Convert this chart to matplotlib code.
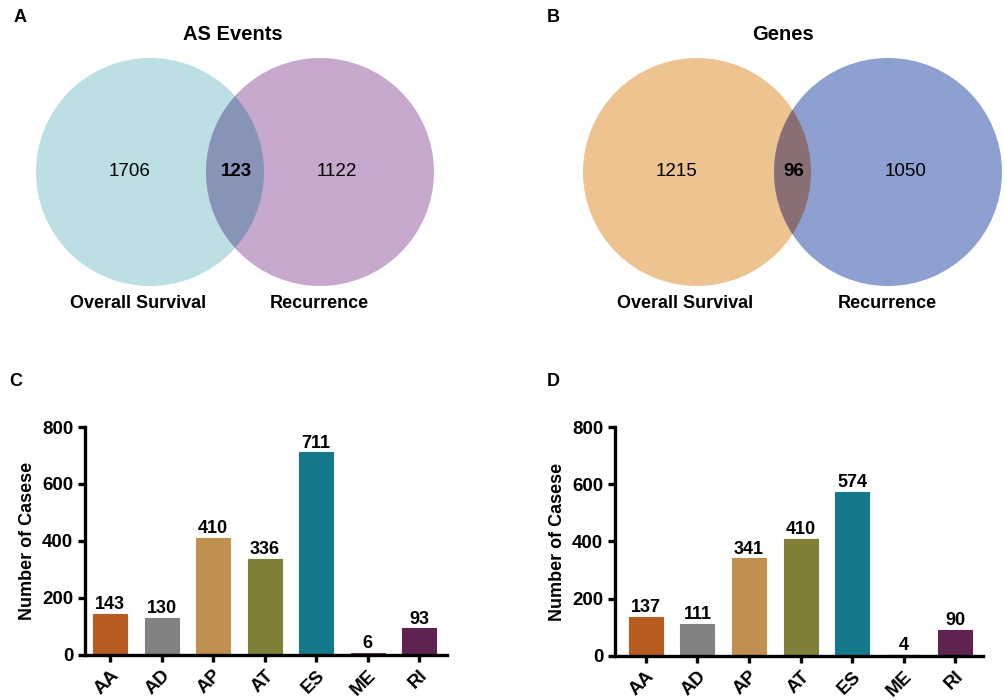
import matplotlib
matplotlib.use("Agg")
import matplotlib.pyplot as plt
from matplotlib.patches import Circle

plt.rcParams['font.family'] = ['Liberation Sans', 'DejaVu Sans']

# venn counts: only OS, overlap, only recurrence
venn_titles = ["AS Events", "Genes"]
venn_counts = [[1706, 123, 1122], [1215, 96, 1050]]
set_names = ["Overall Survival", "Recurrence"]

# bar charts
categories = ["AA", "AD", "AP", "AT", "ES", "ME", "RI"]
counts_c = [143, 130, 410, 336, 711, 6, 93]
counts_d = [137, 111, 341, 410, 574, 4, 90]
bar_colors = ["#B85D22", "#828282", "#C09050", "#7F7F38", "#15798C", "#6B3A5E", "#5E2350"]

venn_colors = [("#BCDFE4", "#C6A9CC", "#8893B8"), ("#EDC48F", "#8DA0D0", "#896F73")]

fig = plt.figure(figsize=(10.05, 7.0), dpi=100)

# overlay axes in pixel coordinates for the venn panels and panel letters
ov = fig.add_axes([0, 0, 1, 1])
ov.set_xlim(0, 1005)
ov.set_ylim(700, 0)
ov.axis("off")

# circle centres (left, right) per panel, radius
venn_pos = [((150, 172), (320, 172)), ((697, 172), (888, 172))]
R = 114
title_x = [233, 783]

for k in range(2):
    (lx, ly), (rx, ry) = venn_pos[k]
    c1, c2, c12 = venn_colors[k]
    left = Circle((lx, ly), R, facecolor=c1, edgecolor="none")
    right = Circle((rx, ry), R, facecolor=c2, edgecolor="none")
    ov.add_patch(left)
    ov.add_patch(right)
    inter = Circle((rx, ry), R, facecolor=c12, edgecolor="none")
    ov.add_patch(inter)
    inter.set_clip_path(left)

    a, both, b = venn_counts[k]
    ov.text(lx - R * 0.18, ly, str(a), fontsize=13.5, ha="center", va="center")
    ov.text((lx + rx) / 2 + 1, ly, str(both), fontsize=13.5, fontweight="bold",
            ha="center", va="center")
    ov.text(rx + R * 0.15, ly, str(b), fontsize=13.5, ha="center", va="center")

    ov.text(title_x[k], 35, venn_titles[k], fontsize=14.5, fontweight="bold",
            ha="center", va="center")
    ov.text(lx - 12, 304, set_names[0], fontsize=13, fontweight="bold",
            ha="center", va="center")
    ov.text(rx - 1, 304, set_names[1], fontsize=13, fontweight="bold",
            ha="center", va="center")

ov.text(20, 18, "A", fontsize=13, fontweight="bold", ha="center", va="center")
ov.text(553, 18, "B", fontsize=13, fontweight="bold", ha="center", va="center")
ov.text(16, 381, "C", fontsize=13, fontweight="bold", ha="center", va="center")
ov.text(553, 381, "D", fontsize=13, fontweight="bold", ha="center", va="center")


def bar_panel(rect, values, xleft):
    ax = fig.add_axes(rect)
    x = range(len(categories))
    ax.bar(x, values, width=0.66, color=bar_colors, edgecolor=bar_colors, linewidth=0.8)
    for i, v in enumerate(values):
        ax.text(i, v + 3, str(v), ha="center", va="bottom", fontsize=13,
                fontweight="bold")
    ax.set_xlim(xleft, 6.54)
    ax.set_ylim(0, 800)
    ax.set_yticks([0, 200, 400, 600, 800])
    ax.set_xticks(list(x))
    ax.set_xticklabels(categories, rotation=45, ha="right", rotation_mode="anchor")
    for s in ["top", "right"]:
        ax.spines[s].set_visible(False)
    for s in ["left", "bottom"]:
        ax.spines[s].set_linewidth(2.4)
    ax.tick_params(width=2.4, length=5, labelsize=13.5)
    for lab in ax.get_xticklabels() + ax.get_yticklabels():
        lab.set_fontweight("bold")
    ax.set_ylabel("Number of Casese", fontsize=13, fontweight="bold", labelpad=4)
    ax.patch.set_alpha(0)
    return ax


bar_panel([85 / 1005, 0.0643, 362 / 1005, 0.3257], counts_c, -0.49)
bar_panel([615 / 1005, 0.0629, 368 / 1005, 0.3271], counts_d, -0.6)

fig.savefig("out.png", dpi=100)
